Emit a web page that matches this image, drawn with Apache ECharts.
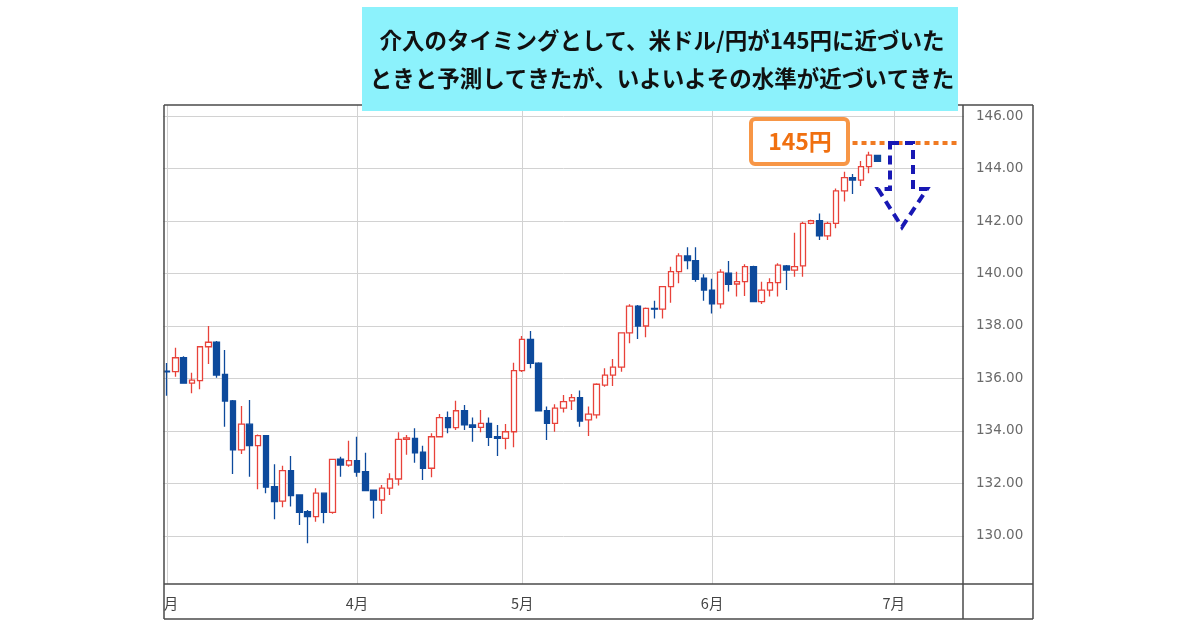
<!DOCTYPE html>
<html><head><meta charset="utf-8">
<script src="https://cdn.jsdelivr.net/npm/echarts@6/dist/echarts.min.js"></script>
<style>html,body{margin:0;padding:0;background:#fff}#c{width:1200px;height:630px}</style>
</head><body><div id="c"></div>
<script>
// trading-day categories (month/day, 2023)
const dates = [
 '3/1','3/2','3/3','3/6','3/7','3/8','3/9','3/10','3/13','3/14','3/15','3/16','3/17','3/20','3/21','3/22','3/23','3/24','3/27','3/28','3/29','3/30','3/31',
 '4/3','4/4','4/5','4/6','4/7','4/10','4/11','4/12','4/13','4/14','4/17','4/18','4/19','4/20','4/21','4/24','4/25','4/26','4/27','4/28',
 '5/1','5/2','5/3','5/4','5/5','5/8','5/9','5/10','5/11','5/12','5/15','5/16','5/17','5/18','5/19','5/22','5/23','5/24','5/25','5/26','5/29','5/30','5/31',
 '6/1','6/2','6/5','6/6','6/7','6/8','6/9','6/12','6/13','6/14','6/15','6/16','6/19','6/20','6/21','6/22','6/23','6/26','6/27','6/28','6/29','6/30',
 '7/3','7/4','7/5','7/6','7/7','7/10','7/11','7/12','7/13'
];
// [open, close, low, high]
const prices = [
 [136.28,136.25,135.34,136.59],[136.26,136.79,136.07,137.17],[136.79,135.82,135.80,136.85],[135.82,135.94,135.44,136.22],
 [135.92,137.21,135.59,137.23],[137.21,137.38,136.55,138.00],[137.38,136.13,136.03,137.43],[136.16,135.14,134.16,137.09],
 [135.15,133.28,132.36,135.18],[133.28,134.26,133.12,134.95],[134.26,133.44,132.26,135.18],[133.44,133.82,131.78,133.87],
 [133.82,131.86,131.63,133.85],[131.88,131.31,130.64,132.73],[131.33,132.49,131.09,132.68],[132.49,131.54,131.12,133.05],
 [131.56,130.90,130.42,131.58],[130.93,130.74,129.72,130.99],[130.74,131.63,130.54,131.82],[131.63,130.90,130.48,131.65],
 [130.90,132.92,130.85,132.93],[132.93,132.70,132.26,133.02],[132.70,132.87,132.64,133.63],
 [132.87,132.43,132.26,133.78],[132.45,131.73,131.72,133.17],[131.75,131.37,130.67,131.76],[131.37,131.82,130.84,131.94],
 [131.82,132.17,131.56,132.39],[132.17,133.68,131.92,133.95],[133.68,133.74,133.09,133.85],[133.72,133.17,132.79,134.10],
 [133.19,132.58,132.13,133.44],[132.58,133.78,132.24,133.91],[133.78,134.51,133.75,134.65],[134.51,134.13,133.91,134.74],
 [134.13,134.77,134.04,135.15],[134.77,134.23,134.04,134.99],[134.23,134.14,133.59,134.51],[134.14,134.29,133.95,134.80],
 [134.29,133.76,133.43,134.51],[133.78,133.72,133.05,134.23],[133.72,133.97,133.30,134.27],[133.97,136.30,133.38,136.60],
 [136.30,137.49,136.25,137.62],[137.49,136.58,136.39,137.81],[136.58,134.77,134.75,136.62],[134.77,134.29,133.66,134.93],
 [134.29,134.87,133.97,135.02],[134.87,135.12,134.70,135.37],[135.15,135.27,134.80,135.41],[135.27,134.38,134.16,135.54],
 [134.42,134.64,133.81,134.93],[134.61,135.78,134.48,135.82],[135.75,136.13,135.69,136.39],[136.13,136.43,135.71,136.74],
 [136.43,137.74,136.26,137.76],[137.74,138.76,137.34,138.83],[138.76,138.00,137.50,138.80],[138.00,138.67,137.57,138.70],
 [138.67,138.64,138.29,138.96],[138.64,139.50,138.29,139.52],[139.50,140.07,138.89,140.26],[140.07,140.67,139.63,140.77],
 [140.67,140.49,140.16,141.00],[140.49,139.78,139.69,141.00],[139.82,139.37,138.96,139.97],
 [139.37,138.84,138.48,139.80],[138.84,140.05,138.67,140.16],[140.01,139.59,139.31,140.48],[139.60,139.69,139.12,140.07],
 [139.69,140.26,139.14,140.35],[140.26,138.93,138.90,140.30],[138.93,139.37,138.84,139.69],[139.37,139.65,139.12,139.82],
 [139.65,140.32,139.12,140.39],[140.29,140.13,139.37,140.32],[140.13,140.26,139.88,141.55],[140.29,141.91,139.88,141.97],
 [141.91,142.01,141.88,142.05],[142.01,141.43,141.28,142.29],[141.43,141.91,141.28,141.97],[141.91,143.15,141.72,143.24],
 [143.15,143.65,142.74,143.88],[143.65,143.56,143.03,143.79],[143.56,144.07,143.33,144.29],[144.07,144.51,143.82,144.64],
 [144.50,144.27,144.25,144.52]
];
const yTicks = [130,132,134,136,138,140,142,144,146];
const targetLevel = 145;
const targetLabel = '145円';
const titleLines = ['介入のタイミングとして、米ドル/円が145円に近づいた','ときと予測してきたが、いよいよその水準が近づいてきた'];

const monthOf = d => d.split('/')[0];
const monthStarts = dates.map((d,i)=> (i===0 || monthOf(d)!==monthOf(dates[i-1])) ? i : -1).filter(i=>i>=0);

const frameColor = '#4a4a4a';
const line = (x1,y1,x2,y2) => ({type:'line', z:50, silent:true, shape:{x1,y1,x2,y2}, style:{stroke:frameColor, lineWidth:1.5}});

const chart = echarts.init(document.getElementById('c'));
chart.setOption({
  animation:false,
  backgroundColor:'#fff',
  grid:{left:163, right:236, top:105, bottom:46},
  xAxis:{
    type:'category', data:dates, boundaryGap:true,
    axisLine:{show:false}, axisTick:{show:false},
    axisLabel:{interval:(i)=>monthStarts.includes(i) && i>0, formatter:v=>monthOf(v)+'月',
      color:'#444', fontSize:14.5, margin:12, fontFamily:'"Noto Sans CJK JP", sans-serif'},
    splitLine:{show:true, interval:(i)=>monthStarts.includes(i), alignWithLabel:true,
      lineStyle:{color:'#d2d2d2', width:1}}
  },
  yAxis:{
    type:'value', position:'right', min:128.17, max:146.42,
    axisLine:{show:false}, axisTick:{show:false, customValues:yTicks},
    axisLabel:{customValues:yTicks, formatter:v=>Number(v).toFixed(2), color:'#6a6a6a',
      fontSize:13.5, margin:12, fontFamily:'"DejaVu Sans", sans-serif'},
    splitLine:{show:true, lineStyle:{color:'#d2d2d2', width:1}}
  },
  series:[{
    type:'candlestick', data:prices, barWidth:6,
    itemStyle:{color:'#ffffff', color0:'#0d4a9c', borderColor:'#e8423a', borderColor0:'#0d4a9c', borderWidth:1.3},
    markLine:{silent:true, symbol:['none','none'], label:{show:false},
      lineStyle:{color:'#f07a22', width:4, type:[5,4], cap:'butt'},
      data:[[{coord:[dates[83], targetLevel]},{coord:[dates[96], targetLevel]}]]}
  }],
  graphic:[
    line(164,105,1033,105), line(164,105,164,619), line(1033,105,1033,619), line(164,619,1033,619),
    line(963,105,963,619), line(164,584,1033,584),
    {type:'text', z:60, style:{text:'月', x:171, y:603, fill:'#444', font:'14.5px "Noto Sans CJK JP"', textAlign:'center', textVerticalAlign:'middle'}},
    {type:'rect', z:100, shape:{x:362, y:7, width:596, height:104}, style:{fill:'#8cf2fc'}},
    {type:'text', z:101, style:{text:titleLines[0], x:662, y:40, fill:'#111', font:'bold 22.5px "Noto Sans CJK JP"', textAlign:'center', textVerticalAlign:'middle'}},
    {type:'text', z:101, style:{text:titleLines[1], x:662, y:78, fill:'#111', font:'bold 22.5px "Noto Sans CJK JP"', textAlign:'center', textVerticalAlign:'middle'}},
    {type:'rect', z:100, shape:{x:751, y:119, width:97, height:45, r:4}, style:{fill:'#fff', stroke:'#f79646', lineWidth:4}},
    {type:'text', z:101, style:{text:targetLabel, x:800, y:141, fill:'#f07010', font:'bold 23px "Noto Sans CJK JP"', textAlign:'center', textVerticalAlign:'middle'}},
    {type:'polygon', z:100, shape:{points:[[890,143],[913,143],[913,189],[927,189],[902,227],[878,189],[890,189]]},
      style:{fill:'none', stroke:'#1818b4', lineWidth:4, lineDash:[9,6]}}
  ]
});
</script></body></html>
